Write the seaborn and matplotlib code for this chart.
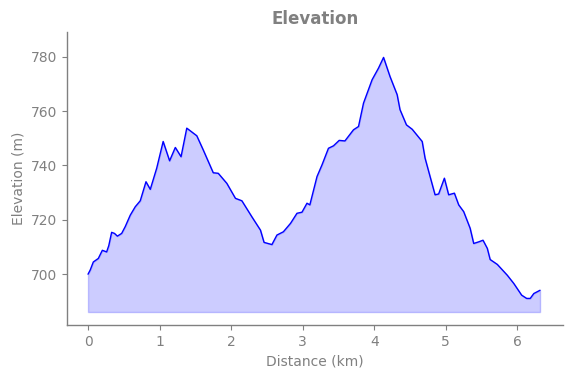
import matplotlib
matplotlib.use("Agg")
import matplotlib.pyplot as plt
import seaborn as sns
import pandas as pd

distance_km = [0.0, 0.03, 0.074, 0.144, 0.2, 0.26, 0.29, 0.33, 0.37, 0.41, 0.47, 0.52, 0.59, 0.66, 0.73,
               0.81, 0.87, 0.96, 1.05, 1.14, 1.22, 1.30, 1.38, 1.47, 1.52, 1.61, 1.75, 1.82,
               1.94, 2.06, 2.15, 2.29, 2.41, 2.46, 2.57, 2.64, 2.73, 2.83, 2.92, 2.99, 3.06,
               3.10, 3.20, 3.27, 3.36, 3.43, 3.51, 3.59, 3.71, 3.78, 3.85, 3.97, 4.06, 4.13,
               4.22, 4.32, 4.36, 4.45, 4.53, 4.62, 4.67, 4.71, 4.77, 4.85, 4.90, 4.98, 5.04,
               5.12, 5.18, 5.25, 5.34, 5.39, 5.46, 5.52, 5.58, 5.62, 5.72, 5.86, 5.95, 6.06,
               6.13, 6.18, 6.23, 6.317]
elevation_m = [700.0, 701.5, 704.5, 705.8, 708.8, 708.2, 710.5, 715.4, 715.0, 714.0, 715.0, 717.5, 721.7, 724.8, 727.0,
               734.0, 731.2, 739.0, 748.8, 741.7, 746.6, 743.2, 753.7, 751.9, 750.9, 745.7, 737.3, 737.1,
               733.4, 727.9, 727.0, 721.1, 716.2, 711.7, 710.9, 714.4, 715.6, 718.7, 722.4, 722.8, 726.1,
               725.5, 735.9, 740.2, 746.3, 747.2, 749.2, 749.0, 753.1, 754.3, 762.9, 771.5, 775.8, 779.7,
               772.7, 766.0, 760.5, 754.9, 753.3, 750.4, 748.8, 742.7, 736.9, 729.2, 729.5, 735.3, 729.2,
               729.8, 725.5, 723.0, 716.9, 711.3, 711.9, 712.5, 709.5, 705.4, 703.6, 699.6, 696.6, 692.3,
               691.1, 691.1, 692.9, 694.1]

title = "Elevation"
x_label = "Distance (km)"
y_label = "Elevation (m)"

sns.set_theme(style="ticks")
plt.rcParams['font.family'] = ['DejaVu Sans']

df = pd.DataFrame({"distance": distance_km, "elevation": elevation_m})

fig = plt.figure(figsize=(5.71, 3.78), dpi=100)
ax = fig.add_axes([0.1168, 0.14, 0.8687, 0.775])

base = min(elevation_m) - 5
ax.fill_between(df["distance"], df["elevation"], base, color="blue", alpha=0.2)
sns.lineplot(data=df, x="distance", y="elevation", ax=ax, color="blue", linewidth=1)

ax.set_xlim(-0.298, 6.634)
ax.set_ylim(681.3, 789)
ax.set_xticks([0, 1, 2, 3, 4, 5, 6])
ax.set_yticks([700, 720, 740, 760, 780])
ax.set_title(title, fontsize=12, fontweight="bold", color="gray")
ax.set_xlabel(x_label, fontsize=10, color="gray")
ax.set_ylabel(y_label, fontsize=10, color="gray")
ax.tick_params(colors="gray", labelsize=10, length=3.5, width=0.8, pad=3.5)
for s in ["left", "bottom"]:
    ax.spines[s].set_color("gray")
    ax.spines[s].set_linewidth(1.0)
sns.despine(ax=ax)

fig.savefig("out.png", dpi=100)
